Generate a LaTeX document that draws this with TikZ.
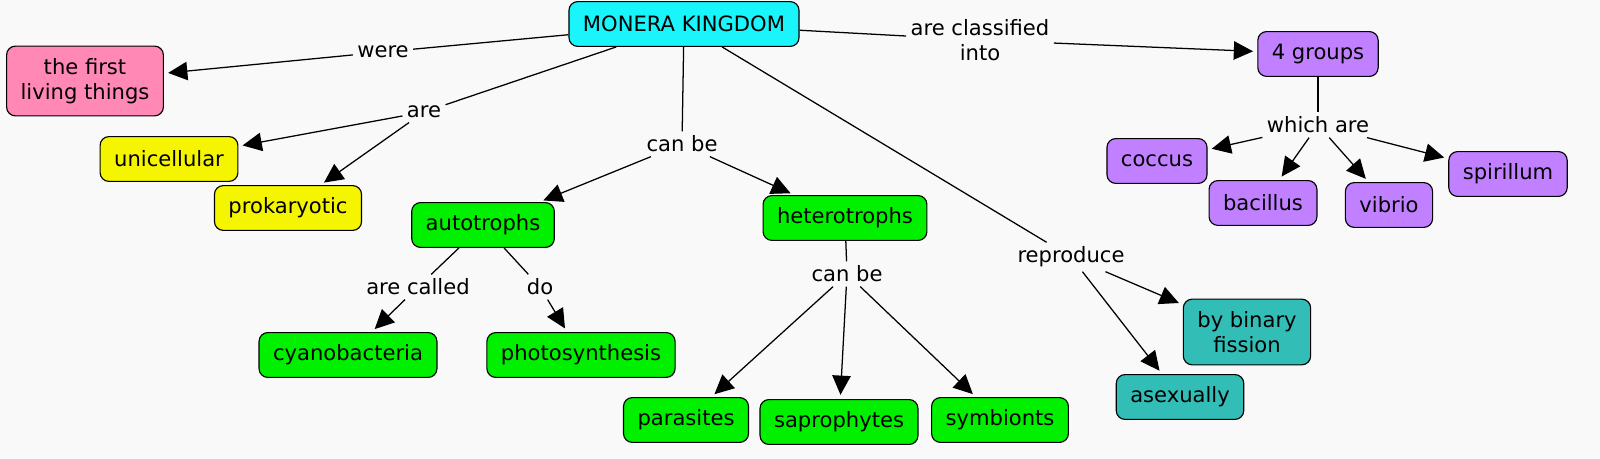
\documentclass[tikz,border=0pt]{standalone}
\usepackage{fontspec}
\setmainfont{DejaVu Sans}
\usetikzlibrary{arrows.meta}

\definecolor{kingcyan}{RGB}{25,245,250}
\definecolor{firstpink}{RGB}{255,136,180}
\definecolor{cellyellow}{RGB}{245,245,0}
\definecolor{trophgreen}{RGB}{0,240,0}
\definecolor{grouppurple}{RGB}{192,128,255}
\definecolor{fissteal}{RGB}{50,190,182}
\definecolor{paper}{RGB}{249,249,249}

\begin{document}
\begin{tikzpicture}[x=0.025cm, y=-0.025cm,
  concept/.style={draw=black, line width=0.8pt, rounded corners=0.22cm, align=center,
    inner xsep=0.35cm, inner ysep=0.3cm, minimum height=1.12cm, font=\fontsize{15}{18}\selectfont},
  phrase/.style={inner sep=3pt, align=center, font=\fontsize{15}{18}\selectfont},
  conn/.style={line width=0.9pt},
  arr/.style={line width=0.9pt, -{Triangle[length=0.48cm,width=0.46cm]}, shorten >=3pt}]

  % Paper behind the map, fixes the size of the page
  \fill[paper] (0,0) rectangle (1600,459);

  % Concepts
  \node[concept, fill=kingcyan] (monera) at (684,24) {MONERA KINGDOM};
  \node[concept, fill=firstpink] (first) at (85,81) {the first\\living things};
  \node[concept, fill=cellyellow] (uni) at (169,159) {unicellular};
  \node[concept, fill=cellyellow] (prok) at (288,208) {prokaryotic};
  \node[concept, fill=trophgreen] (auto) at (483,225) {autotrophs};
  \node[concept, fill=trophgreen] (hetero) at (845,218) {heterotrophs};
  \node[concept, fill=trophgreen] (cyano) at (348,355) {cyanobacteria};
  \node[concept, fill=trophgreen] (photo) at (581,355) {photosynthesis};
  \node[concept, fill=trophgreen] (para) at (686,420) {parasites};
  \node[concept, fill=trophgreen] (sapro) at (839,422) {saprophytes};
  \node[concept, fill=trophgreen] (symb) at (1000,420) {symbionts};
  \node[concept, fill=fissteal] (binary) at (1247,332) {by binary\\fission};
  \node[concept, fill=fissteal] (asex) at (1180,397) {asexually};
  \node[concept, fill=grouppurple] (groups) at (1318,54) {4 groups};
  \node[concept, fill=grouppurple] (coccus) at (1157,161) {coccus};
  \node[concept, fill=grouppurple] (bacil) at (1263,203) {bacillus};
  \node[concept, fill=grouppurple] (vibrio) at (1389,205) {vibrio};
  \node[concept, fill=grouppurple] (spiril) at (1508,174) {spirillum};

  % Linking phrases
  \node[phrase] (were) at (383,52) {were};
  \node[phrase] (are) at (424,112) {are};
  \node[phrase] (canbe) at (682,144) {can be};
  \node[phrase] (classed) at (980,40) {are classified\\into};
  \node[phrase] (which) at (1318,125) {which are};
  \node[phrase] (repro) at (1071,257) {reproduce};
  \node[phrase] (called) at (418,287) {are called};
  \node[phrase] (do) at (540,287) {do};
  \node[phrase] (canbe2) at (847,274) {can be};

  % Concept to phrase
  \draw[conn] (monera) -- (were);
  \draw[conn] (monera) -- (are);
  \draw[conn] (monera) -- (canbe);
  \draw[conn] (monera) -- (classed);
  \draw[conn] (monera) -- (repro);
  \draw[conn] (groups) -- (which);
  \draw[conn] (auto) -- (called);
  \draw[conn] (auto) -- (do);
  \draw[conn] (hetero) -- (canbe2);

  % Phrase to concept
  \draw[arr] (were) -- (first);
  \draw[arr] (are) -- (uni);
  \draw[arr] (are) -- (prok);
  \draw[arr] (canbe) -- (auto);
  \draw[arr] (canbe) -- (hetero);
  \draw[arr] (classed) -- (groups);
  \foreach \g in {coccus, bacil, vibrio, spiril}
    \draw[arr] (which) -- (\g);
  \draw[arr] (repro) -- (binary);
  \draw[arr] (repro) -- (asex);
  \draw[arr] (called) -- (cyano);
  \draw[arr] (do) -- (photo);
  \foreach \h in {para, sapro, symb}
    \draw[arr] (canbe2) -- (\h);
\end{tikzpicture}
\end{document}
